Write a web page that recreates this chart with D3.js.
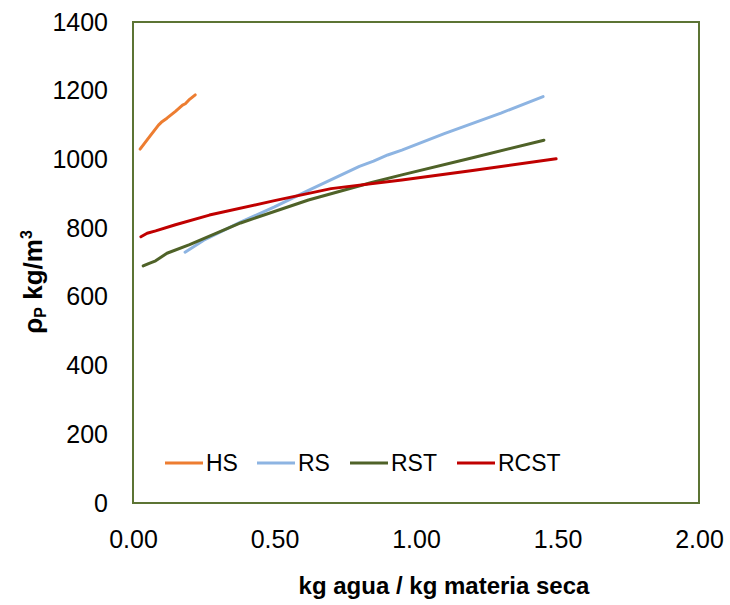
<!DOCTYPE html>
<html lang="en">
<head>
<meta charset="UTF-8">
<title>Densidad de partícula</title>
<script src="https://d3js.org/d3.v7.min.js"></script>
<style>
  body { margin: 0; background: #fff; font-family: Arial, "Liberation Sans", sans-serif; }
  .axis text { font-size: 25px; fill: #000; font-family: Arial, "Liberation Sans", sans-serif; }
  .legend text { font-size: 23px; fill: #000; }
</style>
</head>
<body>
<svg id="chart" width="730" height="605"></svg>
<script>
// series: [x (kg agua / kg materia seca), densidad kg/m3]
const hs = [[0.025,1030],[0.06,1068],[0.09,1100],[0.10,1108],[0.12,1120],[0.15,1140],[0.175,1158],[0.185,1162],[0.20,1175],[0.22,1188]];
const rs = [[0.184,730],[0.25,765],[0.378,817],[0.5,862],[0.62,910],[0.8,980],[0.85,995],[0.87,1002],[0.9,1013],[0.95,1027],[1.1,1075],[1.3,1135],[1.449,1183]];
const rst = [[0.036,690],[0.055,697],[0.08,705],[0.12,727],[0.2,752],[0.38,815],[0.62,882],[0.84,932],[0.95,955],[1.2,1005],[1.452,1056]];
const rcst = [[0.028,775],[0.05,785],[0.08,792],[0.15,810],[0.27,838],[0.5,880],[0.7,915],[0.95,940],[1.2,968],[1.495,1002]];

const seriesNames = ["HS", "RS", "RST", "RCST"];
const seriesColors = ["#ED7D31", "#8DB4E2", "#4F6228", "#C00000"];
const seriesData = [hs, rs, rst, rcst];

const xTicks = [0, 0.5, 1, 1.5, 2];
const yTicks = [0, 200, 400, 600, 800, 1000, 1200, 1400];

const svg = d3.select("#chart");
const plotL = 133, plotR = 699, plotT = 22, plotB = 503;

const x = d3.scaleLinear().domain([0, 2]).range([plotL, plotR]);
const y = d3.scaleLinear().domain([0, 1400]).range([plotB, plotT]);

// axes (labels only, no lines)
const xAxis = svg.append("g")
  .attr("class", "axis")
  .attr("transform", `translate(0,${plotB})`)
  .call(d3.axisBottom(x).tickValues(xTicks).tickFormat(d3.format(".2f")).tickSize(0).tickPadding(27));
xAxis.select(".domain").remove();

const yAxis = svg.append("g")
  .attr("class", "axis")
  .attr("transform", `translate(${plotL},0)`)
  .call(d3.axisLeft(y).tickValues(yTicks).tickFormat(d3.format("d")).tickSize(0).tickPadding(25));
yAxis.select(".domain").remove();

// plot border
svg.append("rect")
  .attr("x", plotL).attr("y", plotT)
  .attr("width", plotR - plotL).attr("height", plotB - plotT)
  .attr("fill", "none").attr("stroke", "#5C7434").attr("stroke-width", 2);

// lines
const line = d3.line().x(d => x(d[0])).y(d => y(d[1]));
seriesData.forEach((s, i) => {
  svg.append("path")
    .datum(s)
    .attr("d", line)
    .attr("fill", "none")
    .attr("stroke", seriesColors[i])
    .attr("stroke-width", 3)
    .attr("stroke-linecap", "round")
    .attr("stroke-linejoin", "round");
});

// legend
const legendX = [165, 257, 350, 457];
const legend = svg.append("g").attr("class", "legend");
seriesNames.forEach((n, i) => {
  legend.append("line")
    .attr("x1", legendX[i]).attr("x2", legendX[i] + 38)
    .attr("y1", 463).attr("y2", 463)
    .attr("stroke", seriesColors[i]).attr("stroke-width", 3);
  legend.append("text")
    .attr("x", legendX[i] + 41).attr("y", 463).attr("dy", "0.35em")
    .text(n);
});

// axis titles
svg.append("text")
  .attr("x", 444).attr("y", 594)
  .attr("text-anchor", "middle")
  .attr("font-size", 24).attr("font-weight", "bold")
  .text("kg agua / kg materia seca");

const yt = svg.append("text")
  .attr("transform", "translate(42,282) rotate(-90)")
  .attr("text-anchor", "middle")
  .attr("font-size", 26).attr("font-weight", "bold");
yt.append("tspan").text("ρ");
yt.append("tspan").attr("font-size", 16).attr("dy", 4).text("P");
yt.append("tspan").attr("dy", -4).text(" kg/m");
yt.append("tspan").attr("font-size", 16).attr("dy", -10).text("3");
</script>
</body>
</html>
